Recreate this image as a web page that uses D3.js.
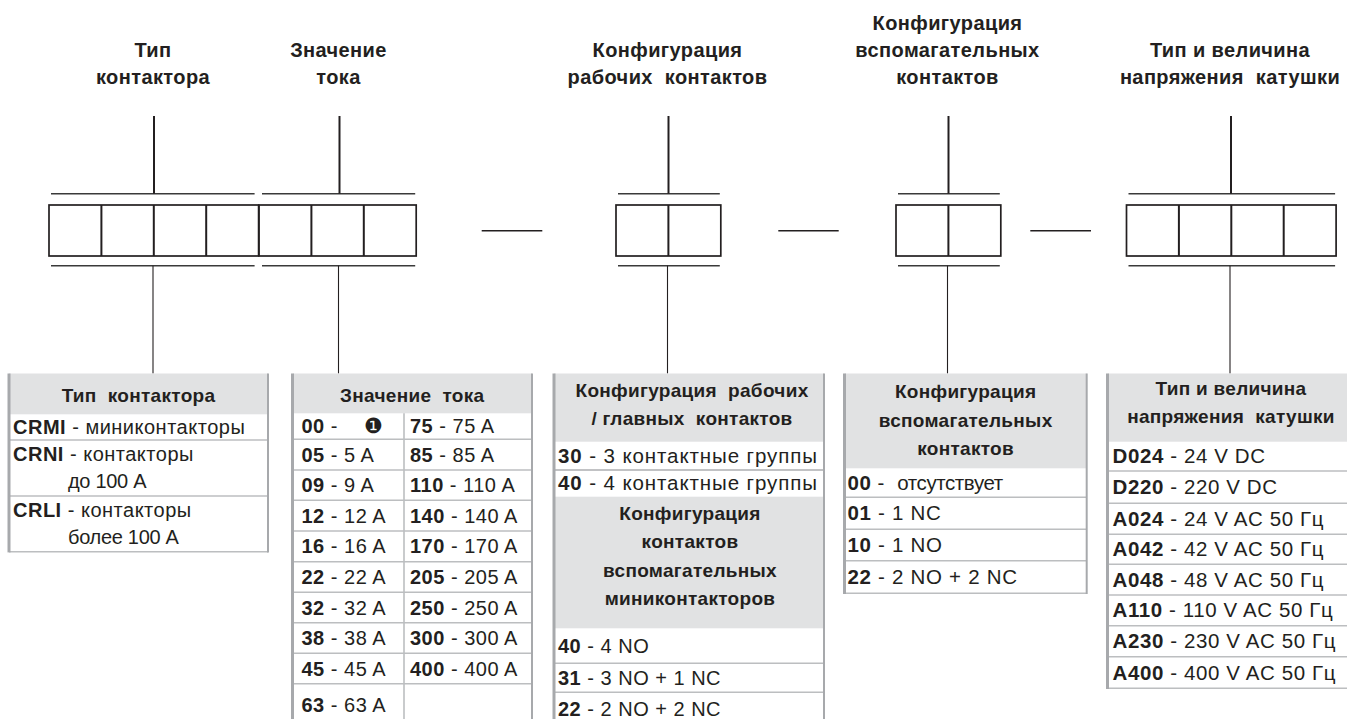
<!DOCTYPE html>
<html><head><meta charset="utf-8">
<script src="https://cdn.jsdelivr.net/npm/d3@7"></script>
<style>
html,body{margin:0;padding:0;background:#fff;}
svg text{font-family:"Liberation Sans",Arial,Helvetica,sans-serif;fill:#231f20;white-space:pre;}
</style></head>
<body><svg id="c" width="1347" height="719"></svg>
<script>
// ---------- data ----------
const groupTitles = [
  ["Тип", "контактора"],
  ["Значение", "тока"],
  ["Конфигурация", "рабочих  контактов"],
  ["Конфигурация", "вспомагательных", "контактов"],
  ["Тип и величина", "напряжения  катушки"]
];
const groupCells = [4, 3, 2, 2, 4];

const contactorHeader = ["Тип  контактора"];
const contactorCodes = ["CRMI", "CRNI", "CRLI"];
const contactorDesc = [["миниконтакторы"], ["контакторы", "до 100 А"], ["контакторы", "более 100 А"]];

const currentHeader = ["Значение  тока"];
const currentCodesLeft = ["00", "05", "09", "12", "16", "22", "32", "38", "45", "63"];
const currentValsLeft = ["❶", "5 A", "9 A", "12 A", "16 A", "22 A", "32 A", "38 A", "45 A", "63 A"];
const currentCodesRight = ["75", "85", "110", "140", "170", "205", "250", "300", "400"];
const currentValsRight = ["75 A", "85 A", "110 A", "140 A", "170 A", "205 A", "250 A", "300 A", "400 A"];

const mainHeader = ["Конфигурация  рабочих", "/ главных  контактов"];
const mainCodes = ["30", "40"];
const mainDesc = ["3 контактные группы", "4 контактные группы"];
const miniAuxHeader = ["Конфигурация", "контактов", "вспомагательных", "миниконтакторов"];
const miniAuxCodes = ["40", "31", "22"];
const miniAuxDesc = ["4 NO", "3 NO + 1 NC", "2 NO + 2 NC"];

const auxHeader = ["Конфигурация", "вспомагательных", "контактов"];
const auxCodes = ["00", "01", "10", "22"];
const auxDesc = ["отсутствует", "1 NC", "1 NO", "2 NO + 2 NC"];

const coilHeader = ["Тип и величина", "напряжения  катушки"];
const coilCodes = ["D024", "D220", "A024", "A042", "A048", "A110", "A230", "A400"];
const coilDesc = ["24 V DC", "220 V DC", "24 V AC 50 Гц", "42 V AC 50 Гц", "48 V AC 50 Гц", "110 V AC 50 Гц", "230 V AC 50 Гц", "400 V AC 50 Гц"];

// ---------- layout ----------
const INK = "#231f20", BORDER = "#a7a9ac", ROWLINE = "#bcbec0", HEAD = "#e1e2e3";
const svg = d3.select("#c");
const HFS = 19, HLS = "0.3px", LH = 28.3;
const FS = 20, LS = "0.5px";

// top code boxes
const boxTop = 205, boxBot = 256, cellW = 52.4;
const groupX = [49, 259, 616, 896, 1126.5];
const stemX = [154, 339.5, 668.5, 948.5, 1231];
const groupG = svg.append("g");
groupCells.forEach((n, i) => {
  const x0 = groupX[i], x1 = x0 + n * cellW;
  const g = groupG.append("g");
  const bx0 = i === 1 ? x0 + 3 : x0 + 2, bx1 = i === 0 ? x1 - 4 : x1 - 1;
  [193.7, 265.7].forEach(y => g.append("line").attr("x1", bx0).attr("x2", bx1).attr("y1", y).attr("y2", y)
    .attr("stroke", "#3a3a3a").attr("stroke-width", 1.6));
  g.append("rect").attr("x", x0).attr("y", boxTop).attr("width", x1 - x0).attr("height", boxBot - boxTop)
    .attr("fill", "none").attr("stroke", INK).attr("stroke-width", 1.7);
  d3.range(1, n).forEach(k => g.append("line").attr("x1", x0 + k * cellW).attr("x2", x0 + k * cellW)
    .attr("y1", boxTop).attr("y2", boxBot).attr("stroke", INK).attr("stroke-width", 2));
  g.append("line").attr("x1", stemX[i]).attr("x2", stemX[i]).attr("y1", 116).attr("y2", 193.7)
    .attr("stroke", INK).attr("stroke-width", 2);
  g.append("line").attr("x1", stemX[i] - 1).attr("x2", stemX[i] - 1).attr("y1", 265.7).attr("y2", 373.5)
    .attr("stroke", INK).attr("stroke-width", 1.1);
  const lines = groupTitles[i];
  const firstBase = 84 - (lines.length - 1) * 27;
  const t = g.append("text").attr("text-anchor", "middle").attr("font-weight", "bold")
    .attr("font-size", 20).attr("letter-spacing", "0.4px");
  lines.forEach((s, k) => t.append("tspan").attr("x", stemX[i] - 1).attr("y", firstBase + k * 27).text(s));
});
[[481.7, 542.3], [778.3, 838.7], [1030.3, 1091]].forEach(([a, b]) =>
  svg.append("line").attr("x1", a).attr("x2", b).attr("y1", 230.7).attr("y2", 230.7)
    .attr("stroke", INK).attr("stroke-width", 1.6));

// ---------- tables ----------
function header(x0, x1, y0, y1, lines, base, cx) {
  svg.append("rect").attr("x", x0).attr("y", y0).attr("width", x1 - x0).attr("height", y1 - y0).attr("fill", HEAD);
  const t = svg.append("text").attr("text-anchor", "middle").attr("font-weight", "bold")
    .attr("font-size", HFS).attr("letter-spacing", HLS);
  lines.forEach((s, k) => t.append("tspan").attr("x", cx === undefined ? (x0 + x1) / 2 : cx).attr("y", base + k * LH).text(s));
}
function hline(x0, x1, y, c) {
  svg.append("line").attr("x1", x0).attr("x2", x1).attr("y1", y).attr("y2", y).attr("stroke", c || ROWLINE).attr("stroke-width", 1.4);
}
function sides(x0, x1, y0, y1, noRight) {
  svg.append("line").attr("x1", x0).attr("x2", x0).attr("y1", y0).attr("y2", y1).attr("stroke", BORDER).attr("stroke-width", 3);
  if (!noRight) svg.append("line").attr("x1", x1).attr("x2", x1).attr("y1", y0).attr("y2", y1).attr("stroke", BORDER).attr("stroke-width", 2);
}
function entry(x, y, code, desc, fs, ls) {
  const t = svg.append("text").attr("x", x).attr("y", y).attr("font-size", fs || FS).attr("letter-spacing", ls || LS);
  t.append("tspan").attr("font-weight", "bold").text(code);
  t.append("tspan").text(" - " + desc);
  return t;
}
function rows(x0, x1, bounds, codes, descs, pad, bottomLine, fs, ls) {
  codes.forEach((c, i) => {
    const top = bounds[i], bot = bounds[i + 1];
    entry(x0 + pad, top + (bot - top) / 2 + 7, c, descs[i], fs, ls);
    if (i < codes.length - 1 || bottomLine) hline(x0, x1, bot);
  });
}

// T1 contactor type
(() => {
  const x0 = 9, x1 = 268, top = 373.5;
  const b = [414.3, 440, 496, 551.7];
  header(x0, x1, top, b[0], contactorHeader, 402);
  contactorCodes.forEach((c, i) => {
    const d = contactorDesc[i];
    if (d.length === 1) {
      entry(x0 + 4, b[i] + (b[i + 1] - b[i]) / 2 + 7, c, d[0]);
    } else {
      entry(x0 + 4, b[i] + 20.5, c, d[0]);
      svg.append("text").attr("x", 68).attr("y", b[i] + 48).attr("font-size", FS).attr("letter-spacing", "-0.3px").text(d[1]);
    }
    hline(x0, x1, b[i + 1]);
  });
  sides(x0, x1, top, b[3] + 0.7);
})();

// T2 current
(() => {
  const x0 = 292.5, x1 = 532, mid = 404, top = 373.5;
  const b = [413.3, 439.3, 470, 500.3, 531, 561.7, 592.3, 622.7, 653.3, 683.7, 726];
  header(x0, x1, top, b[0], currentHeader, 402);
  currentCodesLeft.forEach((c, i) => {
    const y = b[i] + (b[i + 1] - b[i]) / 2 + 7;
    if (c === "00") {
      const t = svg.append("text").attr("x", x0 + 9).attr("y", y).attr("font-size", FS).attr("letter-spacing", LS);
      t.append("tspan").attr("font-weight", "bold").text(c);
      t.append("tspan").text(" -");
      svg.append("text").attr("x", 373).attr("y", y).attr("text-anchor", "middle")
        .attr("font-family", "DejaVu Sans").attr("font-size", 21).text(currentValsLeft[i]);
    } else entry(x0 + 9, y, c, currentValsLeft[i]);
    if (i < currentCodesLeft.length - 1) hline(x0, x1, b[i + 1]);
  });
  currentCodesRight.forEach((c, i) => entry(mid + 6, b[i] + (b[i + 1] - b[i]) / 2 + 7, c, currentValsRight[i]));
  svg.append("line").attr("x1", mid).attr("x2", mid).attr("y1", b[0]).attr("y2", 726).attr("stroke", ROWLINE).attr("stroke-width", 1.6);
  sides(x0, x1, top, 726);
})();

// T3 main contacts + mini aux
(() => {
  const x0 = 554, x1 = 824, top = 373.5;
  const h1 = 441.7, r = [441.7, 470, 496.7], h2 = 628.3, r2 = [628.3, 663.3, 692.3, 726];
  header(x0, x1, top, h1, mainHeader, 397, 692);
  rows(x0, x1, r, mainCodes, mainDesc, 4, false, 20.5, "0.9px");
  header(x0, x1, r[2], h2, miniAuxHeader, 520, 690);
  rows(x0, x1, r2, miniAuxCodes, miniAuxDesc, 4, false);
  hline(x0, x1, r[1]);
  sides(x0, x1, top, 726);
})();

// T4 aux contacts
(() => {
  const x0 = 844.5, x1 = 1086.7, top = 373.5;
  const r = [468.3, 497.3, 529.3, 560.7, 593.3];
  header(x0, x1, top, r[0], auxHeader, 398.3);
  auxCodes.forEach((c, i) => {
    const top = r[i], bot = r[i + 1];
    const y = top + (bot - top) / 2 + 7;
    if (i === 0) {
      const t = svg.append("text").attr("x", x0 + 3).attr("y", y).attr("font-size", 20.5).attr("letter-spacing", "0.5px");
      t.append("tspan").attr("font-weight", "bold").text(c);
      t.append("tspan").text(" -  ");
      t.append("tspan").attr("letter-spacing", "-0.4px").text(auxDesc[i]);
    } else entry(x0 + 3, y, c, auxDesc[i], 20.5, "0.7px");
    hline(x0, x1, bot);
  });
  sides(x0, x1, top, r[4] + 0.7);
})();

// T5 coil voltage
(() => {
  const x0 = 1107.5, x1 = 1360, top = 373.5;
  const r = [441.7, 471, 503.3, 534.3, 564.3, 595, 625.7, 656.7, 688.3];
  header(x0, x1, top, r[0], coilHeader, 395, 1231);
  rows(x0, x1, r, coilCodes, coilDesc, 5, true, 20.5, "0.6px");
  sides(x0, x1, top, r[8] + 0.7, true);
})();
</script></body></html>
